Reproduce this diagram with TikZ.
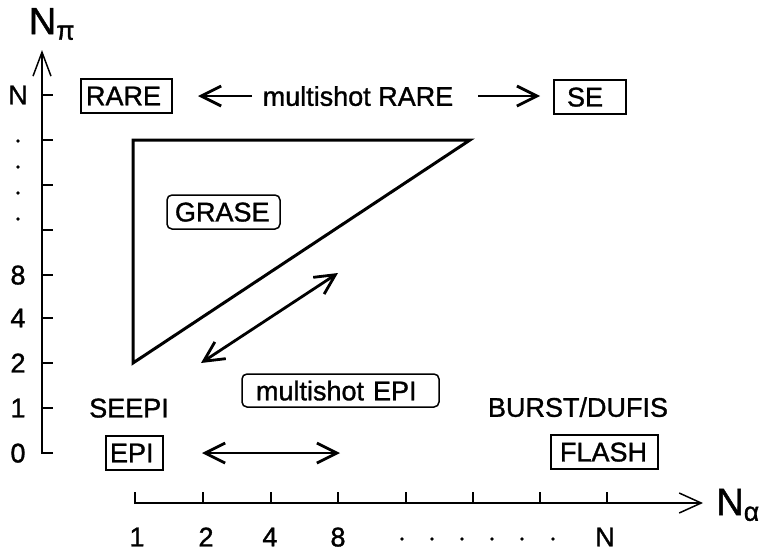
\documentclass[tikz,border=0pt]{standalone}
\usepackage{fontspec}
\setmainfont{Liberation Sans}[FakeBold=1.2]
\usetikzlibrary{arrows.meta}
\begin{document}
\begin{tikzpicture}[x=1pt,y=-1pt,
		lbl/.style={font=\fontsize{27}{30}\selectfont, inner sep=0pt, text depth=0pt},
		axlbl/.style={font=\fontsize{38}{40}\selectfont, inner sep=0pt},
		sqbox/.style={lbl, draw, line width=1.5pt, align=left, minimum height=34pt},
		rndbox/.style={sqbox, rounded corners=5pt},
		tick/.style={line width=1.5pt},
		barb/.style={line width=2.8pt, {Straight Barb[length=20pt,width=20pt]}-{Straight Barb[length=20pt,width=20pt]}},
		onebarb/.style={line width=2.8pt, -{Straight Barb[length=20pt,width=20pt]}}]
	\useasboundingbox (0,0) rectangle (763,552);
	% axes
	\draw[tick, -{Straight Barb[length=24pt,width=18pt]}] (53,453) -- (42,453) -- (42,50);
	\draw[tick, -{Straight Barb[length=22pt,width=20pt]}] (135,492) -- (135,503) -- (703,503);
	\foreach \y in {95,140,185,230,275,318,363,408}
		\draw[tick] (42,\y) -- (53,\y);
	\foreach \x in {203,271,338,406,473,540,607}
		\draw[tick] (\x,503) -- (\x,492);
	\node[axlbl] (npi) at (52,24) {N\textsubscript{π}};
	\node[axlbl] (nalpha) at (738,505) {N\textsubscript{α}};
	% tick labels
	\foreach \t/\y in {0/453,1/408,2/363,4/318,8/275,N/95}
		\node[lbl] (ny\t) at (18,\y) {\t};
	\foreach \y in {141,167,193,219}
		\fill (18,\y) circle (1.8);
	\foreach \t/\x in {1/137,2/206,4/270,8/338,N/605}
		\node[lbl] (nx\t) at (\x,537) {\t};
	\foreach \x in {402,432,462,492,522,553}
		\fill (\x,539) circle (1.8);
	% GRASE region
	\draw[line width=3pt, line join=miter] (133,140) -- (470,140) -- (133,363) -- cycle;
	% sequences
	\node[sqbox, inner xsep=5pt, text width=81pt] (rare) at (126.5,96) {RARE};
	\node[sqbox, inner xsep=13pt, text width=46pt] (se) at (590,97) {SE};
	\node[sqbox, inner xsep=4pt, text width=49pt] (epi) at (134.5,453) {EPI};
	\node[sqbox, inner xsep=9pt, text width=89pt] (flash) at (604.5,452) {FLASH};
	\node[rndbox, inner xsep=8pt, text width=97pt] (grase) at (223.5,212) {GRASE};
	\node[rndbox, inner xsep=14pt, text width=169pt, minimum height=33pt] (msepi) at (340.5,390.5) {multishot EPI};
	\node[lbl] (seepi) at (129,408) {SEEPI};
	\node[lbl] (burst) at (578,407) {BURST/DUFIS};
	\node[lbl] (msrare) at (358,96) {multishot RARE};
	% arrows
	\coordinate (rareL) at (198,96);
	\coordinate (rareR) at (252,96);
	\coordinate (seL) at (478,96);
	\coordinate (seR) at (540,96);
	\coordinate (diagA) at (201,363);
	\coordinate (diagB) at (338,273);
	\coordinate (epiA) at (202,453);
	\coordinate (epiB) at (340,453);
	\draw[onebarb] (rareR) -- (rareL);
	\draw[onebarb] (seL) -- (seR);
	\draw[barb] (diagA) -- (diagB);
	\draw[barb] (epiA) -- (epiB);
\end{tikzpicture}
\end{document}
